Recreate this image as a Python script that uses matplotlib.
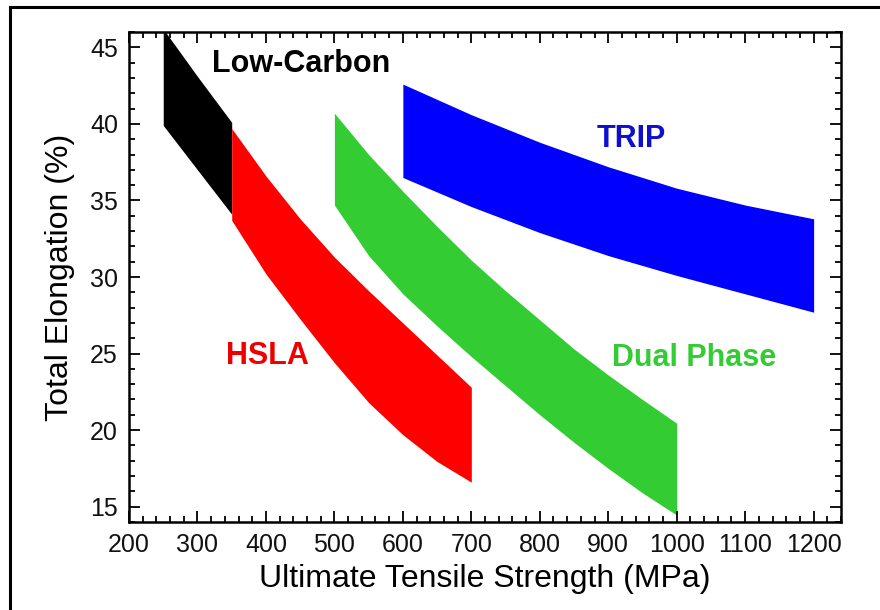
import numpy as np
import matplotlib.pyplot as plt
from matplotlib.lines import Line2D

plt.rcParams['font.family'] = ['Liberation Sans', 'DejaVu Sans']

# band edges: strength (MPa) vs elongation (%)
lc_x = [250, 300, 350]
lc_upper = [46.2, 43.1, 40.1]
lc_lower = [39.9, 37.0, 34.1]

hsla_x = [350, 400, 450, 500, 550, 600, 650, 700]
hsla_upper = [39.7, 36.6, 33.8, 31.3, 29.1, 27.0, 24.9, 22.8]
hsla_lower = [33.7, 30.2, 27.25, 24.4, 21.8, 19.7, 17.95, 16.6]

dp_x = [500, 550, 600, 650, 700, 750, 800, 850, 900, 950, 1000]
dp_upper = [40.7, 38.0, 35.6, 33.3, 31.1, 29.1, 27.2, 25.3, 23.6, 22.0, 20.45]
dp_lower = [34.7, 31.4, 28.9, 26.8, 24.8, 22.9, 21.0, 19.2, 17.5, 15.9, 14.45]

trip_x = [600, 700, 800, 900, 1000, 1100, 1200]
trip_upper = [42.6, 40.6, 38.8, 37.2, 35.8, 34.7, 33.8]
trip_lower = [36.5, 34.6, 32.9, 31.4, 30.1, 28.9, 27.7]

names = ['Low-Carbon', 'HSLA', 'Dual Phase', 'TRIP']
colors = ['#000000', '#ff0000', '#33cc33', '#0000ff']
text_colors = ['#000000', '#ee0000', '#33cc33', '#1010cc']
label_pos = [(451, 43.9), (402, 24.85), (1026, 24.7), (934, 39.0)]

fig = plt.figure(figsize=(8.8, 6.1), dpi=100)
ax = fig.add_axes([0.1466, 0.1443, 0.8091, 0.8032])

bands = [(lc_x, lc_upper, lc_lower), (hsla_x, hsla_upper, hsla_lower),
         (dp_x, dp_upper, dp_lower), (trip_x, trip_upper, trip_lower)]
for (x, up, lo), c in zip(bands, colors):
    ax.fill_between(x, lo, up, color=c, linewidth=0)

for name, (tx, ty), c in zip(names, label_pos, text_colors):
    ax.text(tx, ty, name, color=c, fontsize=22, fontweight='bold',
            ha='center', va='center')

ax.set_xlim(200, 1240)
ax.set_ylim(14, 46)
ax.set_xticks(np.arange(200, 1201, 100))
ax.set_yticks(np.arange(15, 46, 5))
ax.set_xticks(np.arange(200, 1241, 20), minor=True)
ax.set_yticks(np.arange(14, 47, 1), minor=True)
ax.tick_params(which='both', direction='in', top=True, right=True,
               labelsize=18, labelcolor='#111111', width=1.3)
ax.tick_params(which='major', length=8, pad=8)
ax.tick_params(which='minor', length=4)
for s in ax.spines.values():
    s.set_linewidth(1.8)

ax.set_xlabel('Ultimate Tensile Strength (MPa)', fontsize=23, labelpad=5)
ax.set_ylabel('Total Elongation (%)', fontsize=23, labelpad=11)

# partial outer frame (left and top edges visible in the picture)
fig.add_artist(Line2D([10 / 880, 10 / 880], [0, 1 - 6.5 / 610], color='black', lw=2.2))
fig.add_artist(Line2D([10 / 880, 1], [1 - 6.5 / 610, 1 - 6.5 / 610], color='black', lw=2.2))

fig.savefig('out.png', dpi=100)
